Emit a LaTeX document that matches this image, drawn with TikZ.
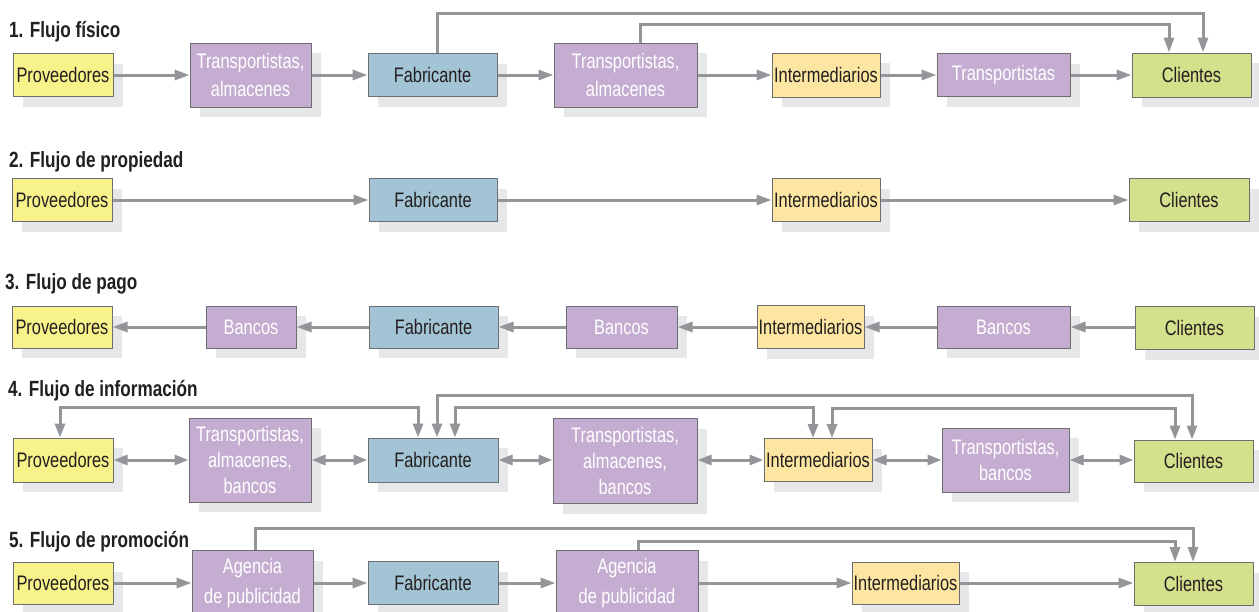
\documentclass[tikz,border=0pt]{standalone}
\usepackage{fontspec}
\setmainfont{Liberation Sans}[FakeStretch=0.78]
\usetikzlibrary{arrows.meta,shadows}
\definecolor{yelc}{HTML}{F8F28B}
\definecolor{purc}{HTML}{C5ADD2}
\definecolor{bluc}{HTML}{A3C4D4}
\definecolor{orac}{HTML}{FDE6A2}
\definecolor{grec}{HTML}{D4E08B}
\definecolor{bordc}{HTML}{6D6E71}
\definecolor{shadc}{HTML}{E6E7E8}
\definecolor{arrc}{HTML}{939598}
\definecolor{txtc}{HTML}{231F20}
\tikzset{
  box/.style={draw=bordc, line width=1pt, inner sep=1pt, align=center,
    font=\fontsize{21}{28}\selectfont,
    drop shadow={shadow xshift=10pt, shadow yshift=-10pt, fill=shadc, opacity=1}},
  yel/.style={box, fill=yelc, text=txtc},
  pur/.style={box, fill=purc, text=white},
  blu/.style={box, fill=bluc, text=txtc},
  ora/.style={box, fill=orac, text=txtc},
  gre/.style={box, fill=grec, text=txtc},
  ttl/.style={anchor=base west, inner sep=0pt, text=txtc,
    font=\fontsize{22}{26}\selectfont\bfseries},
  arr/.style={draw=arrc, line width=3pt, -{Triangle[length=15pt,width=10pt]}},
  darr/.style={draw=arrc, line width=3pt, {Triangle[length=14pt,width=10pt]}-{Triangle[length=14pt,width=10pt]}},
}
\begin{document}
\begin{tikzpicture}[x=1pt,y=1pt]
\fill[white] (0,0) rectangle (1259,-611);
\clip (0,0) rectangle (1259,-611);

% titles
\node[ttl] (T1) at (9,-37) {1. Flujo físico};
\node[ttl] (T2) at (9,-167) {2. Flujo de propiedad};
\node[ttl] (T3) at (5,-289) {3. Flujo de pago};
\node[ttl] (T4) at (8,-396) {4. Flujo de información};
\node[ttl] (T5) at (9,-547) {5. Flujo de promoción};

% row 1
\node[yel, minimum width=100pt, minimum height=43pt] (p1) at (63,-75) {Proveedores};
\node[pur, minimum width=121pt, minimum height=64pt] (t1) at (250.5,-75) {Transportistas,\\almacenes};
\node[blu, minimum width=129pt, minimum height=43pt] (f1) at (432.5,-75) {Fabricante};
\node[pur, minimum width=143pt, minimum height=64pt] (t12) at (625.5,-75) {Transportistas,\\almacenes};
\node[ora, minimum width=108pt, minimum height=44pt] (i1) at (826,-75) {Intermediarios};
\node[pur, minimum width=133pt, minimum height=43pt] (tr1) at (1003.5,-75) {Transportistas};
\node[gre, minimum width=119pt, minimum height=44pt] (c1) at (1191.5,-75) {Clientes};

% row 2
\node[yel, minimum width=100pt, minimum height=43pt] (p2) at (62,-200) {Proveedores};
\node[blu, minimum width=128pt, minimum height=43pt] (f2) at (433,-200) {Fabricante};
\node[ora, minimum width=108pt, minimum height=43pt] (i2) at (826,-200) {Intermediarios};
\node[gre, minimum width=120pt, minimum height=43pt] (c2) at (1189,-200) {Clientes};

% row 3
\node[yel, minimum width=100pt, minimum height=42pt] (p3) at (62,-327) {Proveedores};
\node[pur, minimum width=90pt, minimum height=42pt] (b31) at (251,-327) {Bancos};
\node[blu, minimum width=129pt, minimum height=42pt] (f3) at (433.5,-327) {Fabricante};
\node[pur, minimum width=111pt, minimum height=42pt] (b32) at (621.5,-327) {Bancos};
\node[ora, minimum width=107pt, minimum height=43pt] (i3) at (810.5,-327) {Intermediarios};
\node[pur, minimum width=133pt, minimum height=42pt] (b33) at (1003.5,-327) {Bancos};
\node[gre, minimum width=119pt, minimum height=43pt] (c3) at (1194.5,-328) {Clientes};

% row 4
\node[yel, minimum width=100pt, minimum height=44pt] (p4) at (63,-460) {Proveedores};
\node[pur, minimum width=122pt, minimum height=84pt, font=\fontsize{21}{26}\selectfont] (t4) at (250,-460) {Transportistas,\\almacenes,\\bancos};
\node[blu, minimum width=130pt, minimum height=44pt] (f4) at (433,-460) {Fabricante};
\node[pur, minimum width=144pt, minimum height=85pt, font=\fontsize{21}{26}\selectfont] (t42) at (625,-461) {Transportistas,\\almacenes,\\bancos};
\node[ora, minimum width=108pt, minimum height=43pt] (i4) at (818,-460) {Intermediarios};
\node[pur, minimum width=127pt, minimum height=64pt, font=\fontsize{21}{26}\selectfont] (t43) at (1005.5,-460) {Transportistas,\\bancos};
\node[gre, minimum width=119pt, minimum height=42pt] (c4) at (1193.5,-461) {Clientes};

% row 5
\node[yel, minimum width=100pt, minimum height=42pt] (p5) at (63,-583) {Proveedores};
\node[pur, minimum width=121pt, minimum height=65pt, font=\fontsize{21}{30}\selectfont] (a51) at (252.5,-583) {Agencia\\de publicidad};
\node[blu, minimum width=130pt, minimum height=43pt] (f5) at (433,-583) {Fabricante};
\node[pur, minimum width=142pt, minimum height=65pt, font=\fontsize{21}{30}\selectfont] (a52) at (627,-583) {Agencia\\de publicidad};
\node[ora, minimum width=107pt, minimum height=42pt] (i5) at (905.5,-583) {Intermediarios};
\node[gre, minimum width=119pt, minimum height=43pt] (c5) at (1193.5,-584) {Clientes};

% row 1 arrows
\draw[arr] (p1.east) -- (t1.west);
\draw[arr] (t1.east) -- (f1.west);
\draw[arr] (f1.east) -- (t12.west);
\draw[arr] (t12.east) -- (i1.west);
\draw[arr] (i1.east) -- (tr1.west);
\draw[arr] (tr1.east) -- (c1.west);
\draw[arr] ([xshift=4.5pt]f1.north) -- ++(0,40) -| ([xshift=11.5pt]c1.north);
\draw[arr] ([xshift=14.5pt]t12.north) -- ++(0,18) -| ([xshift=-22.5pt]c1.north);

% row 2 arrows
\draw[arr] (p2.east) -- (f2.west);
\draw[arr] (f2.east) -- (i2.west);
\draw[arr] (i2.east) -- (c2.west);

% row 3 arrows
\draw[arr] (b31.west) -- (p3.east);
\draw[arr] (f3.west) -- (b31.east);
\draw[arr] (b32.west) -- (f3.east);
\draw[arr] (i3.west) -- (b32.east);
\draw[arr] (b33.west) -- (i3.east);
\draw[arr] (c3.west |- b33.east) -- (b33.east);

% row 4 arrows
\draw[darr] (p4.east) -- (t4.west);
\draw[darr] (t4.east) -- (f4.west);
\draw[darr] (f4.east) -- (t42.west |- f4.east);
\draw[darr] (t42.east |- i4.west) -- (i4.west);
\draw[darr] (i4.east) -- (t43.west);
\draw[darr] (t43.east) -- (c4.west |- t43.east);
\draw[darr] ([xshift=-3pt]p4.north) -- ++(0,30) -| ([xshift=-15pt]f4.north);
\draw[darr] ([xshift=4pt]f4.north) -- ++(0,42) -| ([xshift=-1.5pt]c4.north);
\draw[darr] ([xshift=22pt]f4.north) -- ++(0,30) -| ([xshift=-5pt]i4.north);
\draw[darr] ([xshift=14pt]i4.north) -- ++(0,30) -| ([xshift=-18.5pt]c4.north);

% row 5 arrows
\draw[arr] (p5.east) -- (a51.west);
\draw[arr] (a51.east) -- (f5.west);
\draw[arr] (f5.east) -- (a52.west);
\draw[arr] (a52.east) -- (i5.west);
\draw[arr] (i5.east) -- (c5.west |- i5.east);
\draw[arr] ([xshift=2.5pt]a51.north) -- ++(0,21.5) -| ([xshift=-0.5pt]c5.north);
\draw[arr] ([xshift=11pt]a52.north) -- ++(0,8.5) -| ([xshift=-18.5pt]c5.north);
\end{tikzpicture}
\end{document}
